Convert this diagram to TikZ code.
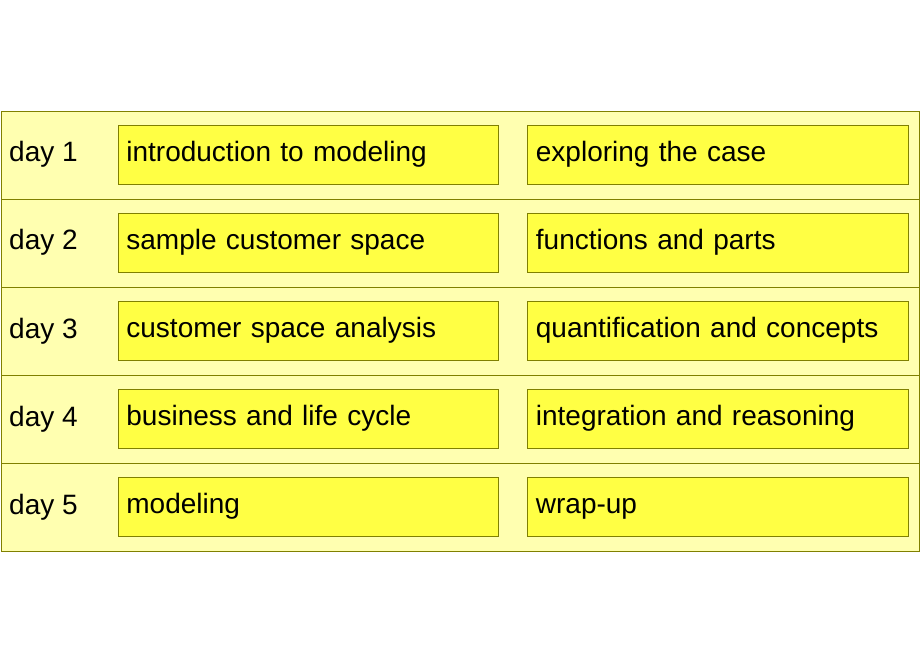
\documentclass[tikz,border=0pt]{standalone}
\usepackage{fontspec}
\setmainfont{Liberation Sans}
\definecolor{rowfill}{HTML}{FFFFB0}
\definecolor{boxfill}{HTML}{FFFF44}
\definecolor{edge}{HTML}{808000}
\begin{document}
\begin{tikzpicture}[x=1pt,y=-1pt,
  rowbox/.style={draw=edge,fill=rowfill,line width=0.8pt},
  topic/.style={draw=edge,fill=boxfill,line width=0.8pt,minimum width=380pt,minimum height=59pt,anchor=north west,text width=364pt,align=left,inner xsep=8pt,text height=20pt,text depth=6pt,font=\fontsize{28}{32}\selectfont},
  daylbl/.style={anchor=west,inner sep=0pt,text height=20pt,text depth=6pt,font=\fontsize{28}{32}\selectfont}]
\useasboundingbox (0,0) rectangle (920,660);
\foreach \i/\a/\b [count=\n] in {1/introduction to modeling/exploring the case,2/sample customer space/functions and parts,3/customer space analysis/quantification and concepts,4/business and life cycle/integration and reasoning,5/modeling/wrap-up}{
  \pgfmathsetmacro\top{111+88*(\n-1)}
  \draw[rowbox] (1,\top) rectangle (919,\top+88);
  \node[daylbl] (d\n) at (9,\top+44) {day \i};
  \node[topic] (l\n) at (118,\top+14) {\a};
  \node[topic,minimum width=381pt] (r\n) at (527,\top+14) {\b};
}
\end{tikzpicture}
\end{document}
